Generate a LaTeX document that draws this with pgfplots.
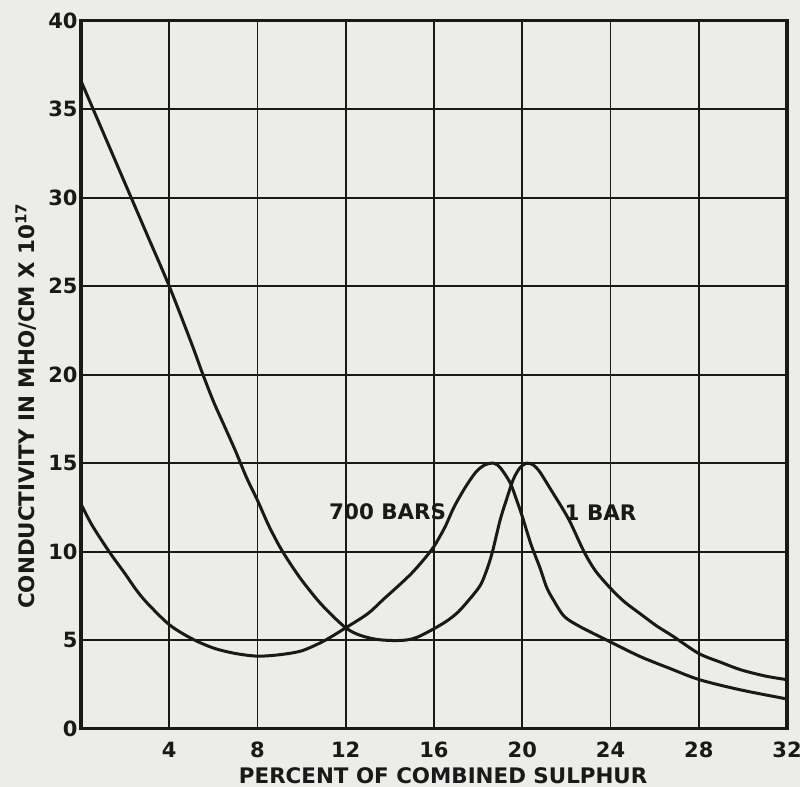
\documentclass[border=0pt]{standalone}
\usepackage{pgfplots}
\pgfplotsset{compat=1.18}
\usepackage{fontspec}
\setmainfont{DejaVu Sans}
\usetikzlibrary{backgrounds}
\definecolor{paper}{RGB}{236,236,233}
\definecolor{ink}{RGB}{25,25,25}

% 1 bar curve
\pgfplotstableread{
x y
0 36.6
1 33.7
2 30.8
3 27.9
4 25.0
5 21.8
5.5 20.1
6 18.5
6.5 17.1
7 15.7
7.5 14.2
8 12.9
8.5 11.5
9 10.3
9.5 9.3
10 8.4
10.7 7.3
11.3 6.5
12 5.7
12.5 5.35
13 5.15
13.5 5.03
14.2 4.98
14.8 5.02
15.3 5.2
16 5.65
16.6 6.1
17.1 6.6
17.6 7.3
18.1 8.1
18.4 9.0
18.65 10.0
19.0 11.8
19.3 13.0
19.6 14.1
19.9 14.75
20.2 15.0
20.5 14.9
20.8 14.5
21.3 13.5
21.86 12.37
22.2 11.6
22.8 10.0
23.3 8.95
23.95 8.0
24.6 7.2
25.34 6.5
26.1 5.8
26.85 5.21
28.0 4.25
29 3.75
29.9 3.33
31 2.98
32 2.77
}\onebar

% 700 bars curve
\pgfplotstableread{
x y
0 12.7
0.5 11.5
1.3 9.96
2 8.75
2.5 7.85
3 7.1
4 5.88
5 5.1
6 4.56
7 4.25
8 4.1
9 4.18
10 4.4
11 4.95
12 5.7
13 6.5
13.7 7.3
14.5 8.2
15.0 8.8
15.5 9.5
16.0 10.3
16.5 11.4
16.9 12.5
17.4 13.6
17.9 14.5
18.3 14.9
18.7 15.0
19.0 14.75
19.45 13.9
19.75 12.9
20.0 12.0
20.4 10.4
20.8 9.1
21.1 8.0
21.4 7.3
21.9 6.35
22.6 5.78
23.95 4.93
25.34 4.08
26.7 3.4
28.03 2.77
29.87 2.2
32 1.68
}\sevenhundred

\begin{document}
\begin{tikzpicture}
\begin{axis}[
  scale only axis, width=353pt, height=354pt,
  xmin=0, xmax=32, ymin=0, ymax=40,
  xtick={4,8,...,32}, ytick={0,5,...,40},
  grid=major, grid style={ink, line width=0.9pt},
  major tick length=0pt,
  axis line style={ink, line width=1.6pt},
  /pgf/number format/assume math mode=true,
  tick label style={font=\bfseries\fontsize{10.5}{12}\selectfont, text=ink},
  yticklabel style={inner sep=1.5pt},
  xticklabel style={yshift=-3pt},
  label style={font=\bfseries\fontsize{10.7}{12}\selectfont, text=ink},
  xlabel={PERCENT OF COMBINED SULPHUR},
  xlabel style={at={(axis description cs:0.513,-0.066)}, anchor=center},
  ylabel={CONDUCTIVITY IN MHO/CM X 10\textsuperscript{17}},
  ylabel style={at={(axis description cs:-0.078,0.456)}, anchor=center},
  clip=false,
]
\addplot[ink, line width=1.5pt, smooth, tension=0.5] table {\onebar};
\addplot[ink, line width=1.5pt, smooth, tension=0.5] table {\sevenhundred};
\node[font=\bfseries\fontsize{10.7}{12}\selectfont, text=ink] at (axis cs:13.9,12.26) {700 BARS};
\node[font=\bfseries\fontsize{10.7}{12}\selectfont, text=ink] at (axis cs:23.55,12.2) {1 BAR};
\coordinate (bbsw) at (rel axis cs:-0.1147,-0.0819);
\coordinate (bbne) at (rel axis cs:1.0184,1.0292);
\end{axis}
\pgfresetboundingbox
\path[use as bounding box] (bbsw) rectangle (bbne);
\begin{scope}[on background layer]
\fill[paper] (bbsw) rectangle (bbne);
\end{scope}
\end{tikzpicture}
\end{document}
